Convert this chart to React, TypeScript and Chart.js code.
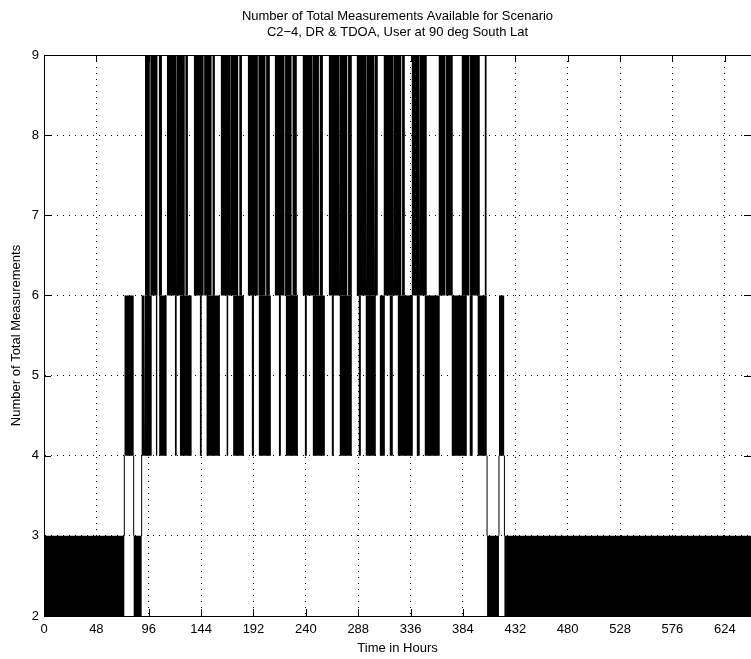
import { useEffect, useRef } from "react";
import { Chart, registerables } from "chart.js";

Chart.register(...registerables);

const TITLE_LINES = [
  "Number of Total Measurements Available for Scenario",
  "C2\u22124, DR & TDOA, User at 90 deg South Lat",
];
const X_LABEL = "Time in Hours";
const Y_LABEL = "Number of Total Measurements";

const X_MIN = 0;
const X_MAX = 648;
const Y_MIN = 2;
const Y_MAX = 9;
const X_TICKS = [0, 48, 96, 144, 192, 240, 288, 336, 384, 432, 480, 528, 576, 624];
const Y_TICKS = [2, 3, 4, 5, 6, 7, 8, 9];

// Time spans (hours) where the count oscillates densely inside each band
const band2to3: [number, number][] = [
  [0, 73.6], [82.2, 89.5], [406.1, 417.0], [422.0, 648],
];
const band4to6: [number, number][] = [
  [73.6, 82.2], [89.5, 91.9], [92.5, 98.7], [102.6, 103.8], [105.6, 112.4],
  [120.0, 121.6], [124.6, 135.3], [142.9, 144.5], [149.0, 161.2], [167.4, 168.8],
  [173.4, 183.2], [190.5, 192.4], [196.9, 207.9], [215.3, 217.1], [221.7, 232.7],
  [239.1, 240.9], [246.4, 257.4], [263.8, 265.6], [271.1, 282.1], [288.5, 290.4],
  [294.9, 304.1], [307.8, 312.4], [316.9, 319.7], [324.3, 338.0], [341.7, 344.4],
  [349.0, 362.7], [373.7, 387.5], [390.2, 392.9], [397.5, 405.8], [417.0, 422.0],
];
const band6to9: [number, number][] = [
  [92.5, 97.0], [97.5, 104.0], [105.3, 108.1],
  [112.7, 121.2], [121.7, 129.0], [129.6, 131.9],
  [137.4, 146.3], [146.8, 153.6], [154.5, 156.6],
  [162.1, 170.6], [171.1, 178.0], [179.0, 181.4],
  [186.9, 196.0], [196.5, 203.0], [203.6, 207.0],
  [211.6, 220.5], [221.0, 226.9], [227.8, 231.7],
  [237.2, 246.0], [246.5, 252.0], [252.7, 255.6],
  [261.1, 270.5], [271.0, 278.0], [278.7, 282.1],
  [286.7, 295.5], [296.0, 302.5], [303.2, 305.9],
  [311.4, 320.0], [320.5, 327.5], [328.2, 330.7],
  [337.1, 344.0], [344.5, 350.8],
  [361.8, 368.0], [368.5, 374.6],
  [382.9, 390.0], [390.5, 399.4],
  [404.0, 405.8],
];
// Times where the trace jumps between the 2-3 band and the 4-6 band
const transitionTimes = [73.6, 82.2, 89.5, 406.1, 417.0, 422.0];

const FONT_FAMILY = "'Liberation Sans', Arial, Helvetica, sans-serif";
const FONT_SIZE = 13;

function bandPoints(blocks: [number, number][], low: number, high: number) {
  const pts: { x: number; y: number }[] = [];
  for (const [s, e] of blocks) {
    pts.push({ x: s, y: low }, { x: s, y: high }, { x: e, y: high }, { x: e, y: low });
  }
  return pts;
}

function transitionPoints(times: number[]) {
  const pts: { x: number; y: number | null }[] = [];
  for (const t of times) {
    pts.push({ x: t, y: 3 }, { x: t, y: 4 }, { x: t, y: null });
  }
  return pts;
}

const framePlugin = {
  id: "matlabFrame",
  afterDraw(chart: any) {
    const { ctx, chartArea, scales } = chart;
    const { left, right, top, bottom } = chartArea;
    const xs = scales.x;
    const ys = scales.y;
    ctx.save();
    ctx.strokeStyle = "#000";
    ctx.lineWidth = 1;
    ctx.setLineDash([]);
    ctx.beginPath();
    for (const v of X_TICKS) {
      const px = Math.round(xs.getPixelForValue(v)) + 0.5;
      ctx.moveTo(px, bottom);
      ctx.lineTo(px, bottom - 7);
      ctx.moveTo(px, top);
      ctx.lineTo(px, top + 7);
    }
    for (const v of Y_TICKS) {
      const py = Math.round(ys.getPixelForValue(v)) + 0.5;
      ctx.moveTo(left, py);
      ctx.lineTo(left + 7, py);
      ctx.moveTo(right, py);
      ctx.lineTo(right - 7, py);
    }
    ctx.moveTo(left, Math.round(top) + 0.5);
    ctx.lineTo(right, Math.round(top) + 0.5);
    ctx.stroke();

    ctx.fillStyle = "#000";
    ctx.font = `${FONT_SIZE}px ${FONT_FAMILY}`;
    ctx.textAlign = "center";
    ctx.textBaseline = "middle";
    const cx = (left + right) / 2;
    ctx.fillText(TITLE_LINES[0], cx, 16);
    ctx.fillText(TITLE_LINES[1], cx, 32);
    ctx.restore();
  },
};

export default function App() {
  const canvasRef = useRef<HTMLCanvasElement | null>(null);

  useEffect(() => {
    if (!canvasRef.current) return;
    const common = {
      pointRadius: 0,
      pointHoverRadius: 0,
      tension: 0,
    };
    const chart = new Chart(canvasRef.current, {
      type: "line",
      data: {
        datasets: [
          {
            ...common,
            label: "2-3",
            data: bandPoints(band2to3, 2, 3),
            borderWidth: 0,
            borderColor: "rgba(0,0,0,0)",
            backgroundColor: "#000",
            fill: { value: 2 },
          },
          {
            ...common,
            label: "4-6",
            data: bandPoints(band4to6, 4, 6),
            borderWidth: 0,
            borderColor: "rgba(0,0,0,0)",
            backgroundColor: "#000",
            fill: { value: 4 },
          },
          {
            ...common,
            label: "6-9",
            data: bandPoints(band6to9, 6, 9),
            borderWidth: 0,
            borderColor: "rgba(0,0,0,0)",
            backgroundColor: "#000",
            fill: { value: 6 },
          },
          {
            ...common,
            label: "jumps",
            data: transitionPoints(transitionTimes),
            borderWidth: 1,
            borderColor: "#000",
            fill: false,
            spanGaps: false,
          },
        ] as any,
      },
      options: {
        animation: false,
        responsive: false,
        layout: { padding: { top: 55, left: 0, right: 0, bottom: 0 } },
        plugins: {
          legend: { display: false },
          tooltip: { enabled: false },
          title: { display: false },
        },
        events: [],
        scales: {
          x: {
            type: "linear",
            min: X_MIN,
            max: X_MAX,
            afterBuildTicks: (scale: any) => {
              scale.ticks = X_TICKS.map((v) => ({ value: v }));
            },
            afterFit: (scale: any) => {
              scale.height = 43;
            },
            ticks: {
              color: "#000",
              font: { family: FONT_FAMILY, size: FONT_SIZE },
              padding: 6,
              maxRotation: 0,
              autoSkip: false,
            },
            grid: { color: "#000", lineWidth: 1, drawTicks: false },
            border: { display: true, color: "#000", width: 1, dash: [1, 5] },
            title: {
              display: true,
              text: X_LABEL,
              color: "#000",
              font: { family: FONT_FAMILY, size: FONT_SIZE },
              padding: { top: 0, bottom: 3 },
            },
          },
          y: {
            type: "linear",
            min: Y_MIN,
            max: Y_MAX,
            afterBuildTicks: (scale: any) => {
              scale.ticks = Y_TICKS.map((v) => ({ value: v }));
            },
            afterFit: (scale: any) => {
              scale.width = 44;
            },
            ticks: {
              color: "#000",
              font: { family: FONT_FAMILY, size: FONT_SIZE },
              padding: 5,
            },
            grid: { color: "#000", lineWidth: 1, drawTicks: false },
            border: { display: true, color: "#000", width: 1, dash: [1, 5] },
            title: {
              display: true,
              text: Y_LABEL,
              color: "#000",
              font: { family: FONT_FAMILY, size: FONT_SIZE },
              padding: { top: 9, bottom: 0 },
            },
          },
        },
      },
      plugins: [framePlugin],
    } as any);
    return () => chart.destroy();
  }, []);

  return (
    <div style={{ position: "absolute", left: 0, top: 0, width: 751, height: 659, background: "#fff" }}>
      <canvas ref={canvasRef} width={751} height={659} style={{ display: "block" }} />
    </div>
  );
}
